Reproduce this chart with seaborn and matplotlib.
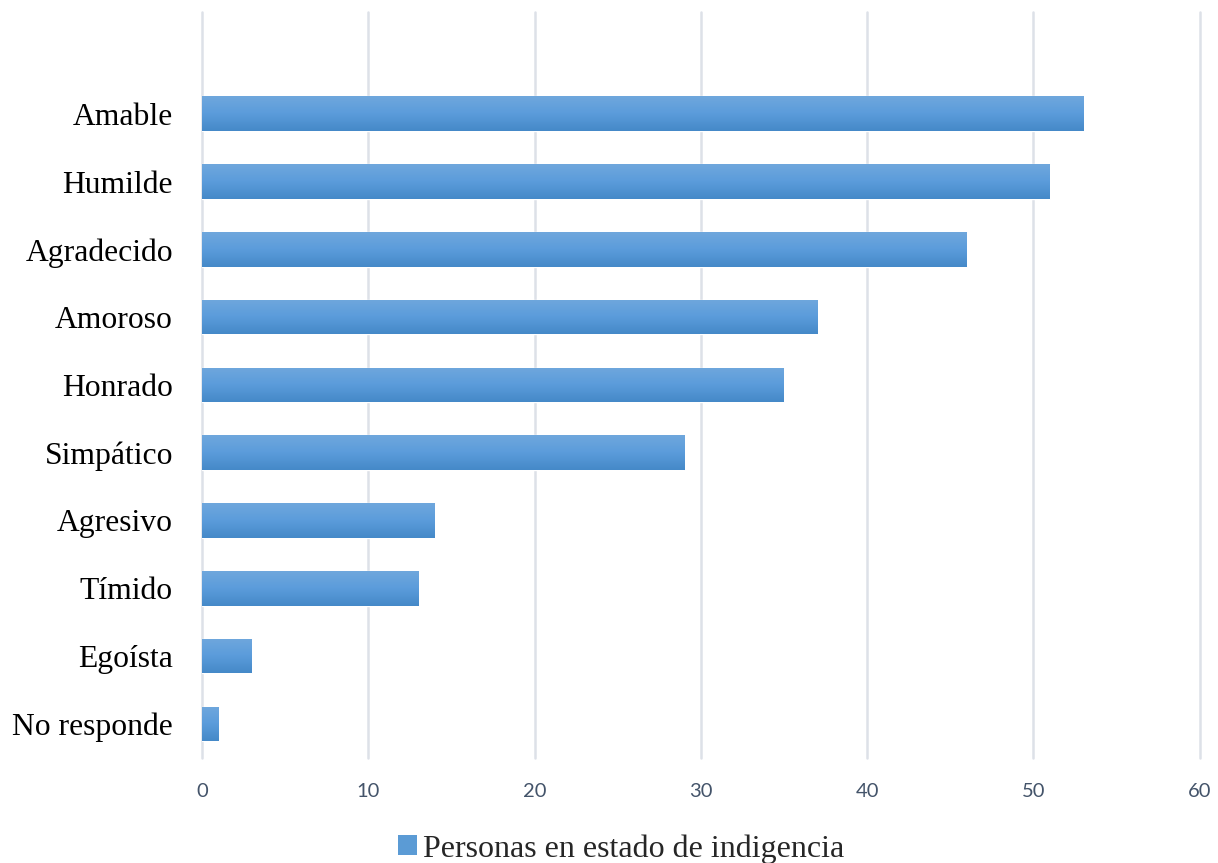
import matplotlib
matplotlib.use("Agg")
import matplotlib.pyplot as plt
import numpy as np
import pandas as pd
import seaborn as sns
from matplotlib.colors import LinearSegmentedColormap
from matplotlib.patches import Patch

categorias = ["Amable", "Humilde", "Agradecido", "Amoroso", "Honrado",
              "Simpático", "Agresivo", "Tímido", "Egoísta", "No responde"]
valores = [53, 51, 46, 37, 35, 29, 14, 13, 3, 1]
serie = "Personas en estado de indigencia"
ticks_x = [0, 10, 20, 30, 40, 50, 60]

df = pd.DataFrame({"categoria": categorias, "valor": valores})

sns.set_theme(style="white")
plt.rcParams["font.family"] = ["Liberation Serif", "DejaVu Serif"]

fig = plt.figure(figsize=(12.18, 8.63), dpi=100)
ax = fig.add_axes([0.166, 0.122, 0.819, 0.864])

sns.barplot(data=df, x="valor", y="categoria", orient="h", width=0.51,
            color="#5b9bd5", ax=ax, zorder=2)

# vertical gradient fill on each bar
grad = LinearSegmentedColormap.from_list("barra", ["#6fa7dd", "#5b9cdb", "#4589c8"])
gimg = np.linspace(0, 1, 64).reshape(-1, 1)
for p in ax.patches:
    x0, y0 = p.get_x(), p.get_y()
    w, h = p.get_width(), p.get_height()
    im = ax.imshow(gimg, cmap=grad, aspect="auto", zorder=3,
                   extent=[x0, x0 + w, y0 + h, y0], origin="upper")
    im.set_clip_path(p)

ax.set_xlim(0, 60)
ax.set_ylim(9.5, -1.5)
ax.set_xticks(ticks_x)
ax.set_xticklabels([str(t) for t in ticks_x], fontfamily="Lato",
                   fontsize=14.5, color="#44546a")
ax.set_yticks(range(len(categorias)))
ax.set_yticklabels(categorias, fontsize=22.8, color="#000000")
ax.tick_params(axis="x", length=0, pad=18)
ax.tick_params(axis="y", length=0, pad=21)
ax.set_xlabel("")
ax.set_ylabel("")
ax.xaxis.grid(True, color="#dde1e8", linewidth=1.8, zorder=0)
for gl in ax.get_xgridlines():
    gl.set_clip_on(False)
ax.yaxis.grid(False)
ax.set_axisbelow(True)
for s in ax.spines.values():
    s.set_visible(False)

handle = Patch(facecolor="#5b9bd5", edgecolor="none")
fig.legend([handle], [serie], loc="lower center", bbox_to_anchor=(0.51, -0.034),
           frameon=False, fontsize=23, handlelength=0.6, handleheight=0.6,
           handletextpad=0.2)

fig.savefig("out.png", dpi=100)
